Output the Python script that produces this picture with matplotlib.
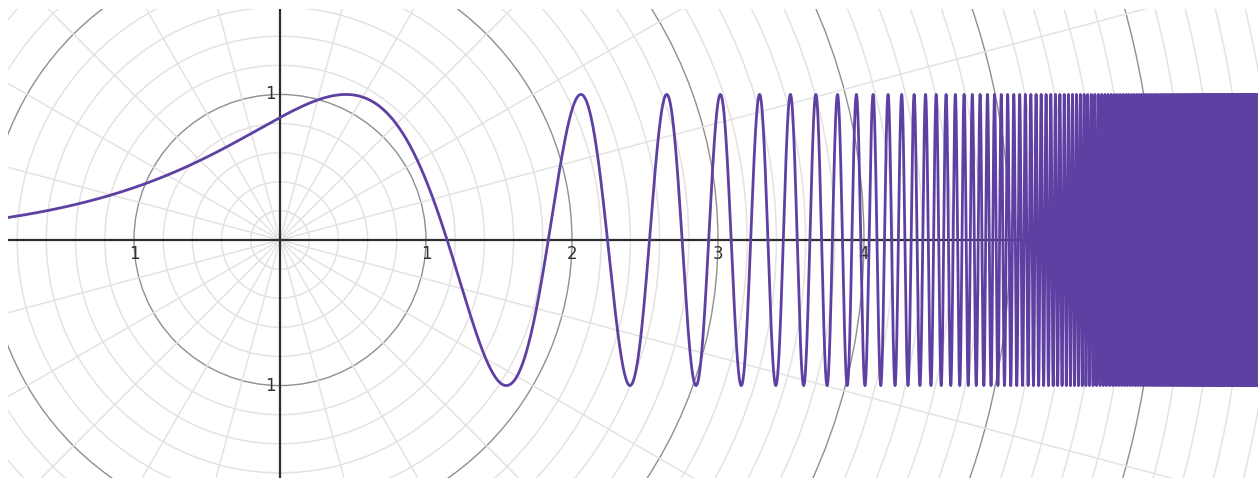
import numpy as np
import matplotlib
matplotlib.use("Agg")
import matplotlib.pyplot as plt
from matplotlib.patches import Circle

# function graph: y = sin(e^x)
x_min, x_max = -1.863, 6.699
y_min, y_max = -1.635, 1.587

# polar grid
ring_step = 0.2
ring_max = 7.4
spoke_step_deg = 15

# axis labels (polar grid shows distances, no sign)
x_label_pos = [-1, 1, 2, 3, 4]
x_label_txt = ['1', '1', '2', '3', '4']
y_label_pos = [1, -1]
y_label_txt = ['1', '1']

curve_color = '#5e40a2'
light_grid = '#e3e3e3'
major_grid = '#8f8f8f'
axis_color = '#2e2e2e'

fig = plt.figure(figsize=(12.58, 4.78), dpi=100)
ax = fig.add_axes([8 / 1258, 0, 1250 / 1258, 469 / 478])
ax.set_xlim(x_min, x_max)
ax.set_ylim(y_min, y_max)
ax.set_axis_off()

# rings
n_rings = int(round(ring_max / ring_step))
for k in range(1, n_rings + 1):
    r = k * ring_step
    major = abs(r - round(r)) < 1e-6
    ax.add_patch(Circle((0, 0), r, fill=False,
                        edgecolor=major_grid if major else light_grid,
                        lw=1.0 if major else 1.1, zorder=1))

# spokes
for a in range(0, 360, spoke_step_deg):
    t = np.deg2rad(a)
    ax.plot([0, 9 * np.cos(t)], [0, 9 * np.sin(t)], color=light_grid, lw=1.1, zorder=1)

# axes
ax.axhline(0, color=axis_color, lw=1.6, zorder=2)
ax.axvline(0, color=axis_color, lw=1.6, zorder=2)

for p, s in zip(x_label_pos, x_label_txt):
    ax.text(p, -0.035, s, ha='center', va='top', fontsize=12, color='#333333', zorder=3)
for p, s in zip(y_label_pos, y_label_txt):
    ax.text(-0.03, p, s, ha='right', va='center', fontsize=12, color='#333333', zorder=3)

# curve
xs = np.linspace(x_min, x_max, 400000)
ys = np.sin(np.exp(xs))
ax.plot(xs, ys, color=curve_color, lw=2.0, zorder=4)

fig.savefig('out.png', dpi=100, facecolor='white')
